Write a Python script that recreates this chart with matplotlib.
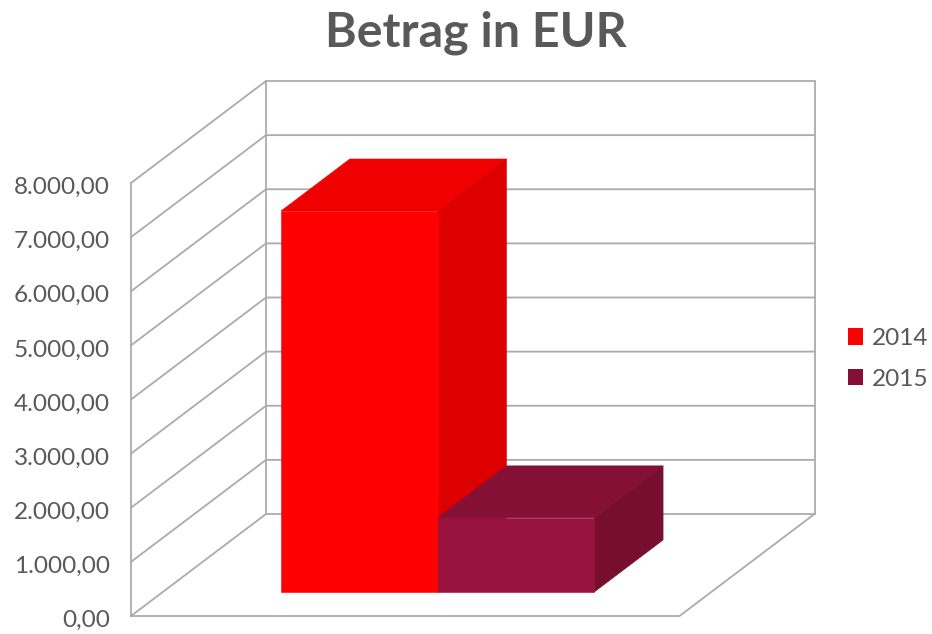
#!/usr/bin/env python3
import matplotlib
matplotlib.use("Agg")
import matplotlib.pyplot as plt
from matplotlib.patches import Patch, Polygon

plt.rcParams['font.family'] = ['Lato', 'DejaVu Sans']

years = ['2014', '2015']
betrag = [7040, 1370]
ticks = [0, 1000, 2000, 3000, 4000, 5000, 6000, 7000, 8000]
tick_labels = ['0,00', '1.000,00', '2.000,00', '3.000,00', '4.000,00',
               '5.000,00', '6.000,00', '7.000,00', '8.000,00']

front_col = ['#ff0000', '#98123f']
top_col = ['#f00000', '#851036']
side_col = ['#dc0000', '#770e30']
legend_col = ['#ff0000', '#851036']
grid_col = '#ababab'
text_col = '#595959'

W, H = 932, 634
px_x = 156.6           # pixels per bar
px_y = 54.125 / 1000   # pixels per euro
x0 = 249.3             # pixel of x=0 on the front plane

fig = plt.figure(figsize=(W / 100, H / 100), dpi=100)
ax = fig.add_axes([0, 0, 1, 1])
ax.set_xlim(-x0 / px_x, (W - x0) / px_x)
ax.set_ylim(-18 / px_y, (H - 18) / px_y)
ax.axis('off')

# oblique projection of the depth axis
depth_x = 135 / px_x
depth_y = 102 / px_y


def pt(x, v, d):
    return (x + d * depth_x, v + d * depth_y)


floor_l, floor_r = (131 - x0) / px_x, (679.5 - x0) / px_x
top = ticks[-1]

# walls and floor
for t in ticks:
    a, b, c = pt(floor_l, t, 0), pt(floor_l, t, 1), pt(floor_r, t, 1)
    ax.plot([a[0], b[0], c[0]], [a[1], b[1], c[1]], color=grid_col, lw=1.3,
            solid_joinstyle='miter', zorder=1)
for x in [floor_l, floor_r]:
    a, b = pt(x, 0, 1), pt(x, top, 1)
    ax.plot([a[0], b[0]], [a[1], b[1]], color=grid_col, lw=1.3, zorder=1)
a, b = pt(floor_l, 0, 0), pt(floor_l, top, 0)
ax.plot([a[0], b[0]], [a[1], b[1]], color=grid_col, lw=1.3, zorder=1)
a, b, c = pt(floor_l, 0, 0), pt(floor_r, 0, 0), pt(floor_r, 0, 1)
ax.plot([a[0], b[0], c[0]], [a[1], b[1], c[1]], color=grid_col, lw=1.3, zorder=1)

# bars
d0, d1 = 0.235, 0.745
for i, v in enumerate(betrag):
    ax.add_patch(Polygon([pt(i, v, d0), pt(i + 1, v, d0), pt(i + 1, v, d1), pt(i, v, d1)],
                         fc=top_col[i], ec=top_col[i], lw=0.4, zorder=2 + i))
    ax.add_patch(Polygon([pt(i + 1, 0, d0), pt(i + 1, v, d0), pt(i + 1, v, d1), pt(i + 1, 0, d1)],
                         fc=side_col[i], ec=side_col[i], lw=0.4, zorder=2 + i))
    ax.add_patch(Polygon([pt(i, 0, d0), pt(i + 1, 0, d0), pt(i + 1, v, d0), pt(i, v, d0)],
                         fc=front_col[i], ec=front_col[i], lw=0.4, zorder=4))

x_lab = (110 - x0) / px_x
for t, lab in zip(ticks, tick_labels):
    ax.text(x_lab, t - 11 / px_y, lab, ha='right', va='baseline', fontsize=17.6, color=text_col)

fig.text(475.5 / W, 1 - 33 / H, 'Betrag in EUR', ha='center', va='center',
         fontsize=34.8, fontweight='bold', color=text_col)

handles = [Patch(fc=legend_col[i], ec='none', label=years[i]) for i in range(2)]
fig.legend(handles=handles, loc='center left', bbox_to_anchor=(848 / W, 1 - 359 / H),
           frameon=False, fontsize=17.6, labelcolor=text_col, handlelength=0.62,
           handleheight=0.65, handletextpad=0.37, labelspacing=0.8,
           borderpad=0, borderaxespad=0)

fig.savefig('out.png', dpi=100)
